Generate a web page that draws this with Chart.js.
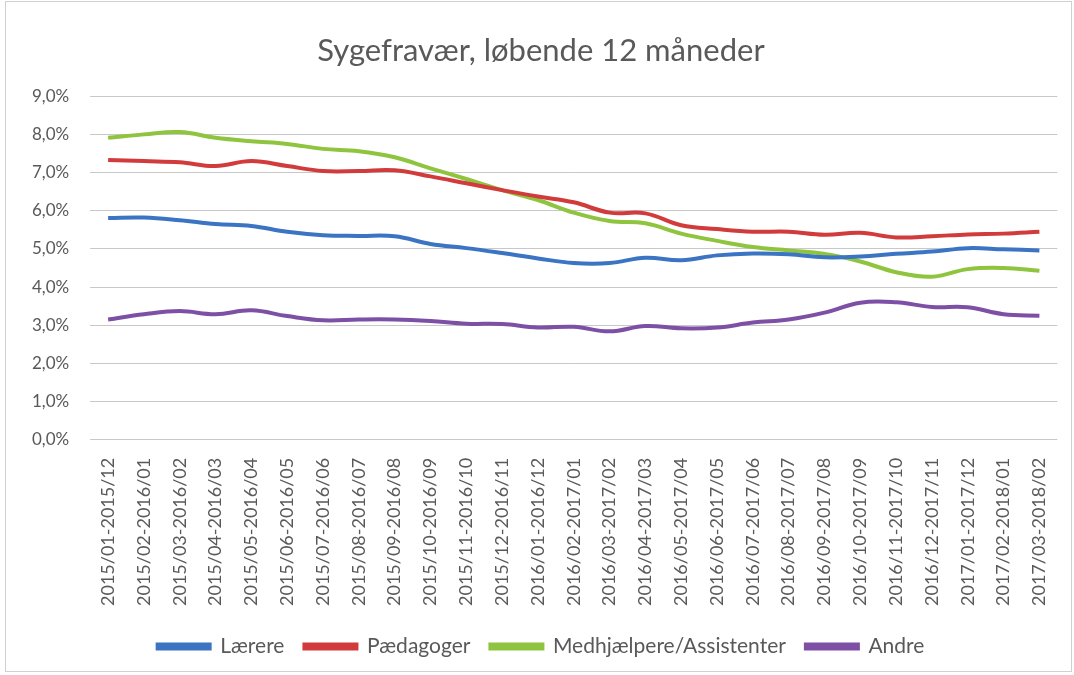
<!DOCTYPE html>
<html>
<head>
<meta charset="utf-8">
<script src="https://cdn.jsdelivr.net/npm/chart.js@4"></script>
<style>
html,body{margin:0;padding:0;background:#fff;}
#wrap{position:absolute;left:5px;top:1px;width:1067px;height:671px;border:1px solid #d0d0d0;box-sizing:border-box;}
canvas{display:block;}
</style>
</head>
<body>
<div id="wrap"><canvas id="c"></canvas></div>
<script>
const categories = [
 "2015/01-2015/12","2015/02-2016/01","2015/03-2016/02","2015/04-2016/03","2015/05-2016/04",
 "2015/06-2016/05","2015/07-2016/06","2015/08-2016/07","2015/09-2016/08","2015/10-2016/09",
 "2015/11-2016/10","2015/12-2016/11","2016/01-2016/12","2016/02-2017/01","2016/03-2017/02",
 "2016/04-2017/03","2016/05-2017/04","2016/06-2017/05","2016/07-2017/06","2016/08-2017/07",
 "2016/09-2017/08","2016/10-2017/09","2016/11-2017/10","2016/12-2017/11","2017/01-2017/12",
 "2017/02-2018/01","2017/03-2018/02"
];
const laerere = [5.81,5.82,5.75,5.65,5.60,5.45,5.36,5.34,5.33,5.13,5.02,4.89,4.75,4.63,4.63,4.77,4.70,4.83,4.88,4.86,4.78,4.80,4.87,4.93,5.02,4.99,4.96];
const paedagoger = [7.33,7.30,7.27,7.17,7.30,7.17,7.04,7.04,7.06,6.90,6.72,6.54,6.37,6.22,5.95,5.93,5.62,5.52,5.45,5.45,5.37,5.42,5.30,5.33,5.38,5.40,5.45];
const medhjaelpere = [7.91,8.00,8.06,7.91,7.82,7.75,7.62,7.56,7.40,7.11,6.83,6.54,6.28,5.95,5.73,5.67,5.40,5.21,5.05,4.96,4.87,4.67,4.39,4.27,4.47,4.50,4.43];
const andre = [3.15,3.29,3.37,3.29,3.39,3.24,3.13,3.15,3.15,3.11,3.04,3.03,2.94,2.96,2.84,2.98,2.92,2.94,3.07,3.15,3.33,3.59,3.60,3.48,3.47,3.29,3.25];
const seriesNames = ["Lærere","Pædagoger","Medhjælpere/Assistenter","Andre"];
const yTickLabels = ["0,0%","1,0%","2,0%","3,0%","4,0%","5,0%","6,0%","7,0%","8,0%","9,0%"];
const titleText = "Sygefravær, løbende 12 måneder";

const colors = ["#3b74c2","#d23b3b","#8fc43e","#7d4fa5"];
const values = [laerere, paedagoger, medhjaelpere, andre];
const FONT = "Lato, 'Open Sans', sans-serif";
const TXT = "#595959";

new Chart(document.getElementById('c'), {
  type: 'line',
  data: {
    labels: categories,
    datasets: values.map((v,i)=>({
      label: seriesNames[i],
      data: v,
      borderColor: colors[i],
      backgroundColor: colors[i],
      borderWidth: 4,
      pointRadius: 0,
      tension: 0.4,
      fill: false
    }))
  },
  options: {
    responsive: true,
    maintainAspectRatio: false,
    animation: false,
    layout: { padding: { left: 5, right: 0, top: 14, bottom: 4 } },
    plugins: {
      title: {
        display: true, text: titleText,
        color: TXT, font: { family: FONT, size: 31, weight: 'normal' },
        padding: { top: 16, bottom: 27 }
      },
      legend: {
        position: 'bottom',
        labels: {
          color: TXT, font: { family: FONT, size: 21 },
          boxWidth: 52, boxHeight: 4, padding: 20
        }
      },
      tooltip: { enabled: false }
    },
    scales: {
      x: {
        offset: true,
        grid: { display: false },
        border: { display: false },
        ticks: { color: TXT, font: { family: FONT, size: 18 }, minRotation: 90, maxRotation: 90, autoSkip: false, padding: 10 }
      },
      y: {
        min: 0, max: 9,
        border: { display: false },
        grid: { color: "#c8c8c8", lineWidth: 1, borderDash: [2,2], drawTicks: false },
        ticks: { stepSize: 1, color: TXT, font: { family: FONT, size: 17 }, padding: 21,
          callback: (v)=> yTickLabels[Math.round(v)] }
      }
    }
  }
});
</script>
</body>
</html>
